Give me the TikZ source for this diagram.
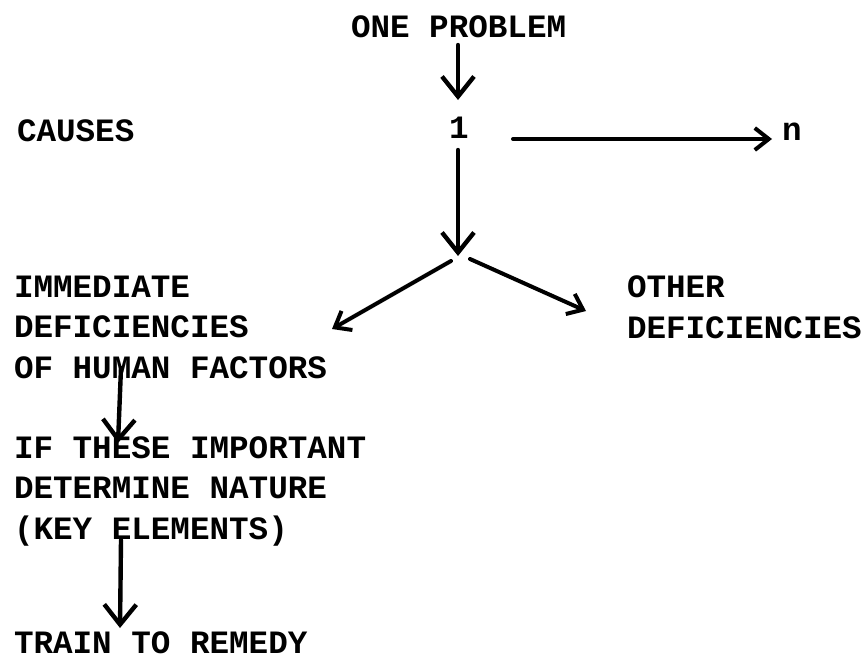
\documentclass[tikz,border=0pt]{standalone}
\usepackage{fontspec}
\setmainfont{Liberation Mono}
\usetikzlibrary{arrows.meta}
\tikzset{
  lbl/.style={anchor=base west, inner sep=0pt, outer sep=0pt, align=left,
    font=\fontsize{32.6}{40.5}\selectfont\bfseries},
  conn/.style={line width=4.4pt, line cap=round,
    -{Straight Barb[length=20pt,width=32pt,line width=4.4pt]}},
  connsmall/.style={line width=4pt, line cap=round,
    -{Straight Barb[length=14pt,width=22pt,line width=4pt]}},
}
\begin{document}
\begin{tikzpicture}[x=1pt,y=-1pt]
\useasboundingbox (0,0) rectangle (867,662);
\node[lbl] (prob) at (351,37) {ONE PROBLEM};
\node[lbl] (causes) at (17,141) {CAUSES};
\node[lbl] (one) at (449,138) {1};
\node[lbl] (n) at (782,140) {n};
\node[lbl] (imm) at (14,378) {IMMEDIATE\\DEFICIENCIES\\OF HUMAN FACTORS};
\node[lbl] (oth) at (627,338) {OTHER\\DEFICIENCIES};
\node[lbl] (if) at (14,539) {IF THESE IMPORTANT\\DETERMINE NATURE\\(KEY ELEMENTS)};
\node[lbl] (train) at (14,653) {TRAIN TO REMEDY};
\coordinate (p1) at (458,45);
\coordinate (p2) at (458,100);
\coordinate (j0) at (458,150);
\coordinate (j) at (458,256);
\coordinate (ls) at (451,261);
\coordinate (le) at (332,329);
\coordinate (rs) at (470,259);
\coordinate (re) at (586,311);
\coordinate (hs) at (513,139);
\coordinate (he) at (772,139);
\coordinate (a1) at (121,368);
\coordinate (a2) at (118,443);
\coordinate (b1) at (121,540);
\coordinate (b2) at (120,628);
\draw[conn] (p1) -- (p2);
\draw[conn] (j0) -- (j);
\draw[connsmall] (ls) -- (le);
\draw[connsmall] (rs) -- (re);
\draw[connsmall] (hs) -- (he);
\draw[conn] (a1) -- (a2);
\draw[conn] (b1) -- (b2);
\end{tikzpicture}
\end{document}
